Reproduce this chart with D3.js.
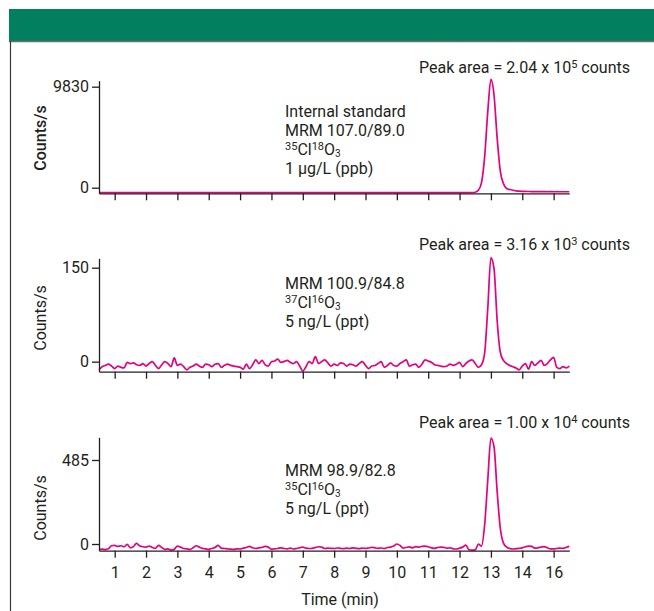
<!DOCTYPE html>
<html>
<head>
<meta charset="utf-8">
<script src="https://cdn.jsdelivr.net/npm/d3@7"></script>
<style>
    body { margin: 0; background: #fff; }
    svg { display: block; font-family: Roboto, sans-serif; }
</style>
</head>
<body>
<svg id="chart"></svg>
<script>
'use strict';

// sampling of the traces (min)
var timeStart = 0.5,
    timeStep = 0.1;

// x axis
var timeTicks = [1, 2, 3, 4, 5, 6, 7, 8, 9, 10, 11, 12, 13, 14, 15];
var timeTickLabels = ["1", "2", "3", "4", "5", "6", "7", "8", "9", "10", "11", "12", "13", "14", "16"];

// internal standard, MRM 107.0/89.0 (counts/s)
var isCounts = [
    -470, -480, -475, -485, -478, -482, -476, -480, -484, -478,
    -480, -476, -482, -478, -485, -480, -474, -479, -483, -477,
    -481, -476, -470, -478, -484, -479, -472, -480, -476, -483,
    -478, -474, -481, -477, -484, -479, -475, -482, -478, -480,
    -476, -483, -479, -474, -481, -477, -484, -478, -475, -480,
    -482, -477, -473, -480, -485, -478, -474, -481, -477, -483,
    -479, -475, -482, -478, -484, -480, -476, -481, -477, -483,
    -478, -474, -480, -485, -479, -476, -482, -478, -484, -480,
    -475, -481, -477, -483, -479, -474, -480, -486, -478, -476,
    -482, -478, -484, -480, -475, -481, -477, -483, -479, -474,
    -480, -485, -478, -476, -482, -478, -484, -480, -475, -481,
    -477, -483, -479, -474, -480, -486, -478, -476, -470, -465,
    -440, -250, 500, 3000, 7400, 10550, 9000, 4800, 1600, 400,
    -80, -180, -250, -300, -330, -350, -365, -372, -378, -382,
    -385, -388, -390, -392, -388, -394, -390, -395, -392, -396, -394
];
var isTicks = [0, 9830];
var isDomain = [-545, 10414];

// MRM 100.9/84.8, 5 ng/L (counts/s)
var cl37Counts = [
    -13, -8, -6, -4, -7, -11, -7, -9, -10, -1,
    -3, -2, -5, -6, -3, -7, -3, 0, -6, -11,
    -5, 0, -3, -8, 6, -6, -4, -8, -13, -9,
    -7, -4, -7, -9, -4, -5, -8, -4, -3, -9,
    -6, -4, -6, -7, -8, -9, -12, -4, -11, -5,
    3, -3, 2, -5, -7, 0, 1, 4, -1, 0,
    2, -1, -3, 0, -7, -15, -8, 0, -3, 8,
    -3, 0, 3, -2, -7, -4, -6, -2, -3, -7,
    -4, -5, -7, -3, 0, -6, -11, -7, -6, -3,
    0, -9, -6, -2, -6, -7, -3, 0, 3, -7,
    -5, -4, -9, -4, 3, 1, -1, -5, -6, -7,
    -8, -7, -4, -6, -4, -1, -8, -3, 1, 3,
    -3, -9, -5, 14, 85, 166, 148, 65, 15, 2,
    -3, -6, -8, -10, -13, -7, -3, -12, 0, -6,
    -2, 2, -6, -3, 3, 7, -9, -11, -8, -10, -7
];
var cl37Ticks = [0, 150];
var cl37Domain = [-16, 165];

// MRM 98.9/82.8, 5 ng/L (counts/s)
var cl35Counts = [
    -31, -30, -32, -28, -10, -8, -14, -10, -16, -2,
    -22, -15, 4, -12, -16, -18, -12, -20, -25, -8,
    -20, -31, -28, -35, -30, -12, -18, -26, -28, -31,
    -22, -10, -18, -25, -28, -31, -26, -20, -8, -24,
    -26, -28, -30, -31, -28, -29, -24, -20, -14, -22,
    -26, -22, -20, -14, -18, -30, -28, -26, -22, -26,
    -28, -24, -29, -26, -22, -18, -24, -26, -25, -20,
    -16, -18, -26, -24, -25, -26, -23, -25, -27, -24,
    -26, -22, -25, -27, -24, -25, -23, -20, -22, -25,
    -23, -26, -20, -18, -12, 0, -8, -24, -20, -17,
    -22, -15, -18, -14, -12, -16, -22, -25, -20, -18,
    -20, -24, -22, -28, -29, -24, -18, -6, -33, -35,
    -34, 0, -12, 110, 370, 612, 560, 300, 90, 5,
    -18, -26, -29, -27, -25, -22, -16, -12, -14, -24,
    -22, -18, -15, -22, -28, -28, -26, -24, -25, -20, -14
];
var cl35Ticks = [0, 485];
var cl35Domain = [-38.7, 616];

var width = 654,
    height = 611,
    fontSize = 16,
    ink = "#231f20",
    traceColor = "#e6007e";

var svg = d3.select("#chart")
    .attr("width", width)
    .attr("height", height);

// frame: green band and left rule
svg.append("rect")
    .attr("x", 9)
    .attr("y", 9)
    .attr("width", width - 9)
    .attr("height", 32)
    .style("fill", "#017f5e");
svg.append("line")
    .attr("x1", 9).attr("x2", width)
    .attr("y1", 41.5).attr("y2", 41.5)
    .style("stroke", "#6d6e70")
    .style("stroke-width", 1.5);
svg.append("line")
    .attr("x1", 10.5).attr("x2", 10.5)
    .attr("y1", 41).attr("y2", height)
    .style("stroke", "#3a3a3a")
    .style("stroke-width", 1.2);

var x = d3.scaleLinear()
    .domain([timeStart, 15.5])
    .range([99, 569.3]);

// writes text with super/subscripts; parts = [text, "sup"|"sub"|undefined]
function richText(sel, px, py, parts, anchor) {
    var t = sel.append("text")
        .attr("x", px)
        .attr("y", py)
        .attr("text-anchor", anchor || "start")
        .style("font-size", fontSize + "px")
        .style("fill", ink);
    var shift = 0;
    parts.forEach(function(p) {
        var target = p[1] === "sup" ? -5 : (p[1] === "sub" ? 1.5 : 0);
        t.append("tspan")
            .attr("dy", target - shift)
            .style("font-size", p[1] === "sup" ? "11px" : (p[1] === "sub" ? "10px" : fontSize + "px"))
            .text(p[0]);
        shift = target;
    });
    return t;
}

var panels = [
    {
        values: isCounts, ticks: isTicks, domain: isDomain,
        top: 80.7, bottom: 193.3, labelY: 138, bold: true,
        area: [["Peak area = 2.04 x 10"], ["5", "sup"], [" counts"]], areaY: 73,
        notes: [
            [["Internal standard"]],
            [["MRM 107.0/89.0"]],
            [["35", "sup"], ["Cl"], ["18", "sup"], ["O"], ["3", "sub"]],
            [["1 \u00b5g/L (ppb)"]]
        ],
        notesY: 117
    },
    {
        values: cl37Counts, ticks: cl37Ticks, domain: cl37Domain,
        top: 258.3, bottom: 371.7, labelY: 318, bold: false,
        area: [["Peak area = 3.16 x 10"], ["3", "sup"], [" counts"]], areaY: 250,
        notes: [
            [["MRM 100.9/84.8"]],
            [["37", "sup"], ["Cl"], ["16", "sup"], ["O"], ["3", "sub"]],
            [["5 ng/L (ppt)"]]
        ],
        notesY: 289
    },
    {
        values: cl35Counts, ticks: cl35Ticks, domain: cl35Domain,
        top: 437.3, bottom: 550.7, labelY: 508, bold: false,
        area: [["Peak area = 1.00 x 10"], ["4", "sup"], [" counts"]], areaY: 427.5,
        notes: [
            [["MRM 98.9/82.8"]],
            [["35", "sup"], ["Cl"], ["16", "sup"], ["O"], ["3", "sub"]],
            [["5 ng/L (ppt)"]]
        ],
        notesY: 476
    }
];

panels.forEach(function(p, i) {
    var y = d3.scaleLinear()
        .domain(p.domain)
        .range([p.bottom, p.top]);

    var g = svg.append("g");

    var line = d3.line()
        .x(function(d, j) { return x(timeStart + j * timeStep); })
        .y(function(d) { return y(d); })
        .curve(d3.curveMonotoneX);

    g.append("path")
        .datum(p.values)
        .attr("d", line)
        .style("fill", "none")
        .style("stroke", traceColor)
        .style("stroke-width", 1.7)
        .style("stroke-linejoin", "round");

    var xAxis = d3.axisBottom(x)
        .tickValues(timeTicks)
        .tickSize(7)
        .tickSizeOuter(0)
        .tickFormat(function(d, k) { return i === panels.length - 1 ? timeTickLabels[k] : ""; });

    var gx = g.append("g")
        .attr("transform", "translate(0," + p.bottom + ")")
        .call(xAxis);

    var yAxis = d3.axisLeft(y)
        .tickValues(p.ticks)
        .tickSize(7)
        .tickSizeOuter(0)
        .tickFormat(d3.format("d"));

    var gy = g.append("g")
        .attr("transform", "translate(99,0)")
        .call(yAxis);

    [gx, gy].forEach(function(a) {
        a.selectAll("path, line")
            .style("stroke", ink)
            .style("stroke-width", 1.3);
        a.selectAll("text")
            .style("font-family", "Roboto, sans-serif")
            .style("font-size", fontSize + "px")
            .style("fill", ink);
    });
    gx.selectAll("text").attr("dy", 0).attr("y", 27);
    gy.selectAll("text").attr("x", -10);

    g.append("text")
        .attr("transform", "translate(40," + p.labelY + ") rotate(-90)")
        .attr("text-anchor", "middle")
        .attr("dy", "0.35em")
        .style("font-size", fontSize + "px")
        .style("font-weight", p.bold ? 500 : 400)
        .style("fill", ink)
        .text("Counts/s");

    richText(g, 630, p.areaY, p.area, "end");

    p.notes.forEach(function(n, k) {
        richText(g, 285, p.notesY + k * 19, n);
    });
});

svg.append("text")
    .attr("x", 340)
    .attr("y", 605)
    .attr("text-anchor", "middle")
    .style("font-size", fontSize + "px")
    .style("fill", ink)
    .text("Time (min)");
</script>
</body>
</html>
